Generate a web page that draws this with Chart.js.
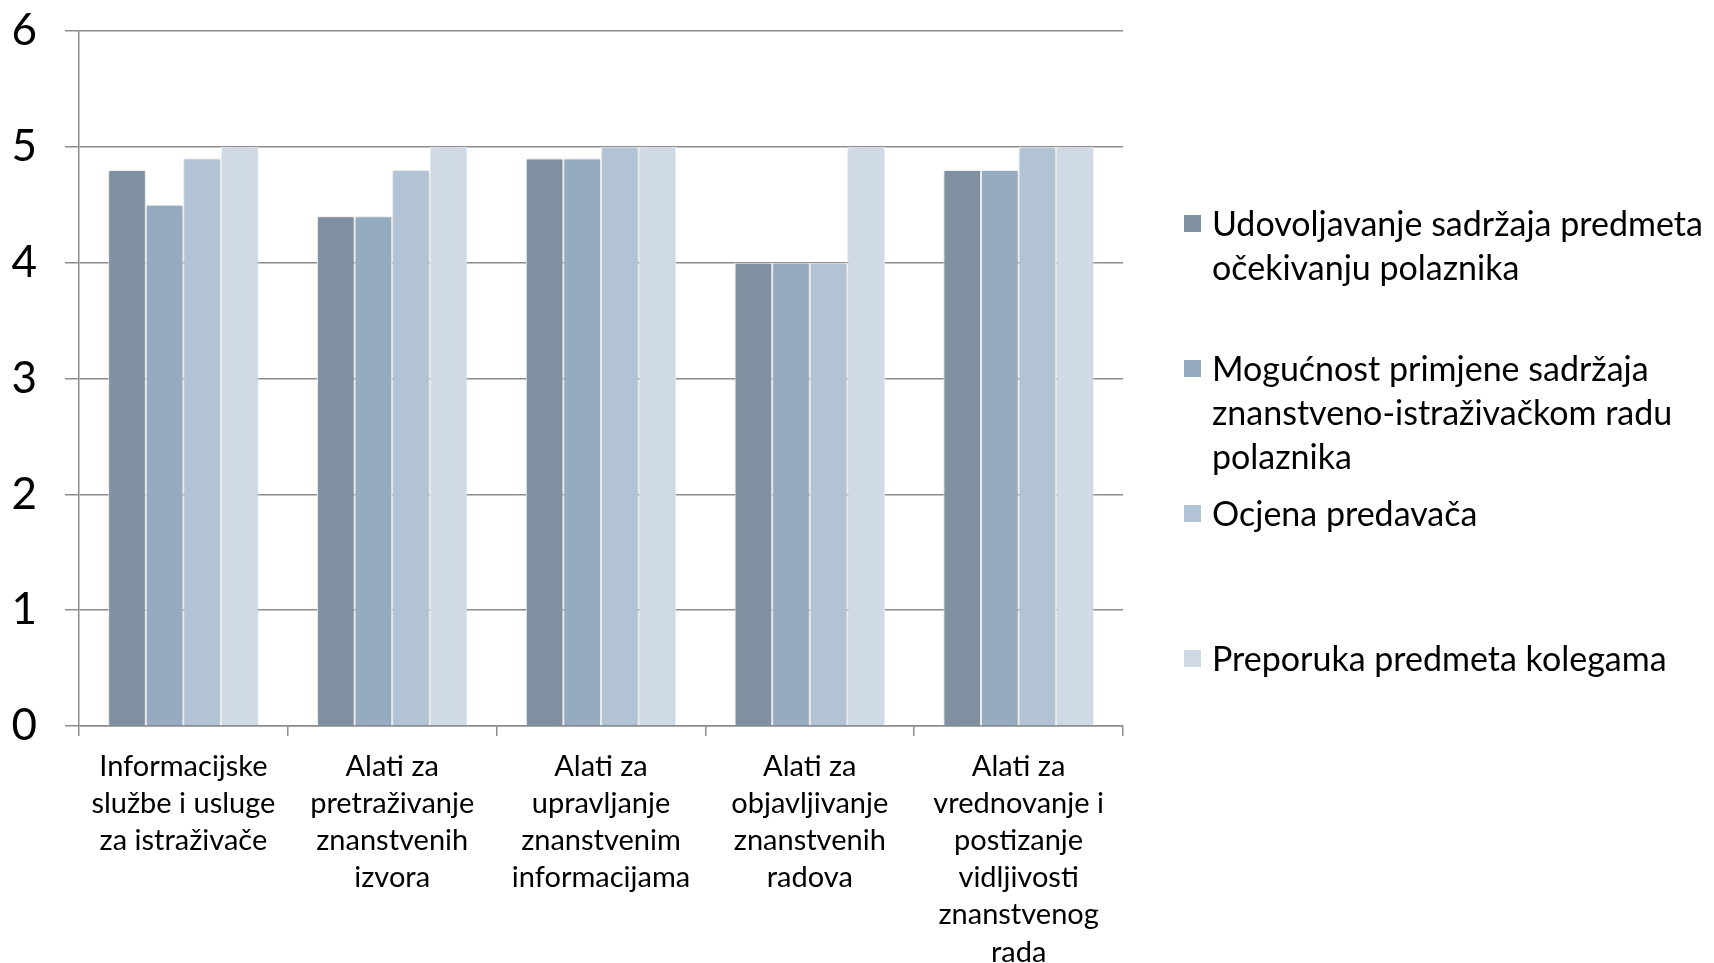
<!DOCTYPE html>
<html>
<head>
<meta charset="utf-8">
<script src="https://cdn.jsdelivr.net/npm/chart.js@4"></script>
<style>
  html, body { margin: 0; padding: 0; background: #fff; }
  #wrap { position: relative; width: 1714px; height: 963px; }
  #legenda { position: absolute; left: 1184px; top: 201px; font-family: Lato, sans-serif; font-size: 34px; line-height: 44px; color: #000; }
  .stavka { position: relative; height: 145px; white-space: nowrap; }
  .kvadrat { position: absolute; left: 0; top: 14px; width: 17px; height: 17px; }
  .tekst { position: absolute; left: 28px; top: 0; }
</style>
</head>
<body>
<div id="wrap">
  <canvas id="grafikon" width="1714" height="963"></canvas>
  <div id="legenda"></div>
</div>
<script>
const kategorije = [
  ["Informacijske", "službe i usluge", "za istraživače"],
  ["Alati za", "pretraživanje", "znanstvenih", "izvora"],
  ["Alati za", "upravljanje", "znanstvenim", "informacijama"],
  ["Alati za", "objavljivanje", "znanstvenih", "radova"],
  ["Alati za", "vrednovanje i", "postizanje", "vidljivosti", "znanstvenog", "rada"]
];

const nazivi = [
  ["Udovoljavanje sadržaja predmeta", "očekivanju polaznika"],
  ["Mogućnost primjene sadržaja", "znanstveno-istraživačkom radu", "polaznika"],
  ["Ocjena predavača"],
  ["Preporuka predmeta kolegama"]
];

const udovoljavanje = [4.8, 4.4, 4.9, 4.0, 4.8];
const mogucnost = [4.5, 4.4, 4.9, 4.0, 4.8];
const ocjena = [4.9, 4.8, 5.0, 4.0, 5.0];
const preporuka = [5.0, 5.0, 5.0, 5.0, 5.0];

const yMin = 0;
const yMax = 6;
const yKorak = 1;

const boje = ["#7f91a1", "#95abbf", "#b1c3d5", "#d0dae5"];
const serije = [udovoljavanje, mogucnost, ocjena, preporuka];

Chart.defaults.font.family = "Lato, sans-serif";
Chart.defaults.color = "#000";

// lagana sjena oko stupaca
const sjena = {
  id: "sjena",
  beforeDatasetsDraw(chart) {
    const ctx = chart.ctx;
    ctx.save();
    ctx.shadowColor = "rgba(0,0,0,0.22)";
    ctx.shadowBlur = 5;
    ctx.shadowOffsetX = 0;
    ctx.shadowOffsetY = 0;
  },
  afterDatasetsDraw(chart) {
    chart.ctx.restore();
  }
};

const siva = "#8c8c8c";

const grafikon = new Chart(document.getElementById("grafikon").getContext("2d"), {
  type: "bar",
  data: {
    labels: kategorije,
    datasets: serije.map((vrijednosti, i) => ({
      label: nazivi[i].join(" "),
      data: vrijednosti,
      backgroundColor: boje[i],
      borderColor: "#ffffff",
      borderWidth: 1,
      categoryPercentage: 0.72,
      barPercentage: 1.0
    }))
  },
  options: {
    responsive: false,
    animation: false,
    layout: {
      padding: { top: 31, right: 591, bottom: 0, left: 0 }
    },
    plugins: {
      legend: { display: false },
      tooltip: { enabled: false }
    },
    scales: {
      x: {
        grid: {
          display: true,
          drawOnChartArea: false,
          drawTicks: true,
          tickLength: 10,
          color: siva,
          lineWidth: 1.5
        },
        border: { display: true, color: siva, width: 1.5 },
        ticks: {
          font: { size: 29, lineHeight: 1.28 },
          padding: 12,
          maxRotation: 0,
          autoSkip: false
        },
        afterFit(scale) { scale.height = 237; }
      },
      y: {
        min: yMin,
        max: yMax,
        ticks: {
          stepSize: yKorak,
          font: { size: 44 },
          padding: 28
        },
        grid: {
          color: siva,
          lineWidth: 1.5,
          tickLength: 14
        },
        border: { display: true, color: siva, width: 1.5 },
        afterFit(scale) {
          scale.width = 79;
          scale.paddingTop = 0;
          scale.paddingBottom = 0;
        }
      }
    }
  },
  plugins: [sjena]
});

const legenda = document.getElementById("legenda");
nazivi.forEach((linije, i) => {
  const stavka = document.createElement("div");
  stavka.className = "stavka";
  const kvadrat = document.createElement("div");
  kvadrat.className = "kvadrat";
  kvadrat.style.background = boje[i];
  const tekst = document.createElement("div");
  tekst.className = "tekst";
  tekst.innerHTML = linije.join("<br>");
  stavka.appendChild(kvadrat);
  stavka.appendChild(tekst);
  legenda.appendChild(stavka);
});
</script>
</body>
</html>
